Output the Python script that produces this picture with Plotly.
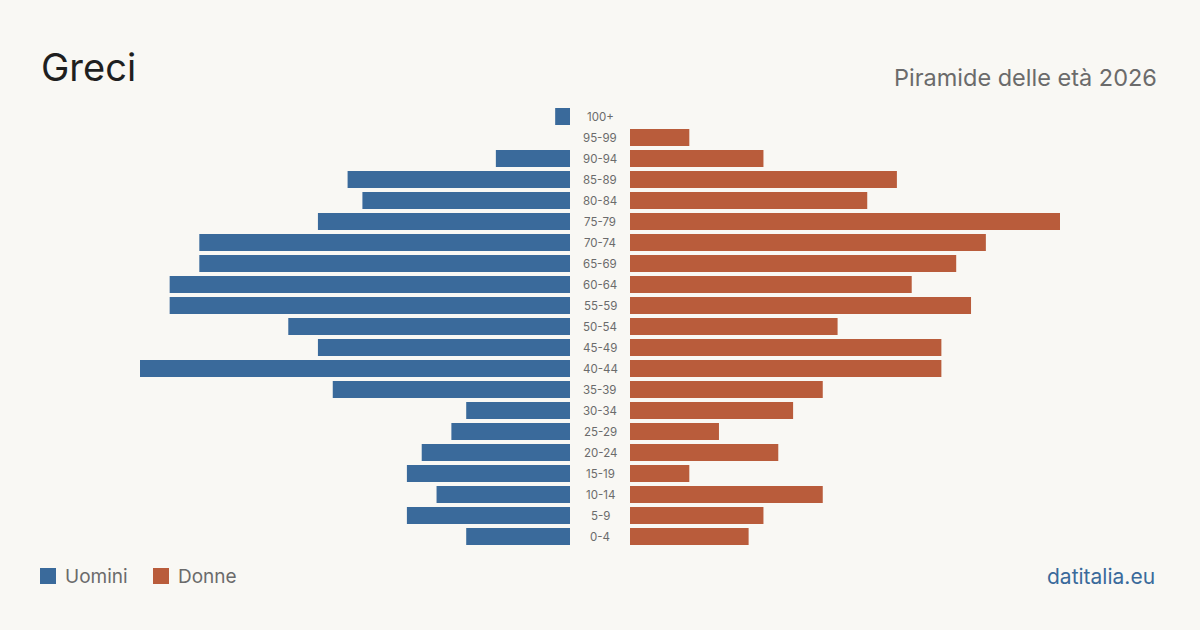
import plotly.graph_objects as go

ages = ["0-4", "5-9", "10-14", "15-19", "20-24", "25-29", "30-34", "35-39", "40-44", "45-49",
        "50-54", "55-59", "60-64", "65-69", "70-74", "75-79", "80-84", "85-89", "90-94", "95-99", "100+"]
uomini = [7, 11, 9, 11, 10, 8, 7, 16, 29, 17, 19, 27, 27, 25, 25, 17, 14, 15, 5, 0, 1]
donne = [8, 9, 13, 4, 10, 6, 11, 13, 21, 21, 14, 23, 19, 22, 24, 29, 16, 18, 9, 4, 0]

BLUE = "#3a6a9b"
ORANGE = "#b95c3b"
BG = "#f9f8f4"
FONT = "Inter"
W, H = 1200, 630

def px(x):
    return x / W

def py(y):
    return 1 - y / H

xmax = 29
fig = go.Figure()
fig.add_trace(go.Bar(y=ages, x=uomini, orientation="h", marker=dict(color=BLUE, line_width=0),
                     xaxis="x", yaxis="y", name="Uomini", showlegend=False, hoverinfo="x+y"))
fig.add_trace(go.Bar(y=ages, x=donne, orientation="h", marker=dict(color=ORANGE, line_width=0),
                     xaxis="x2", yaxis="y", name="Donne", showlegend=False, hoverinfo="x+y"))

for a in ages:
    fig.add_annotation(x=0.5, xref="paper", y=a, yref="y", text=a, showarrow=False,
                       font=dict(family=FONT, size=11.5, color="#6b6b6b"), xanchor="center", yanchor="middle")

fig.update_layout(
    width=W, height=H,
    margin=dict(l=0, r=0, t=0, b=0),
    paper_bgcolor=BG, plot_bgcolor=BG,
    bargap=0.19,
    xaxis=dict(domain=[px(140), px(570)], range=[xmax, 0], visible=False, fixedrange=True),
    xaxis2=dict(domain=[px(630), px(1060)], range=[0, xmax], visible=False, fixedrange=True),
    yaxis=dict(domain=[py(547), py(106)], categoryorder="array", categoryarray=ages,
               range=[-0.5, len(ages) - 0.5], visible=False, fixedrange=True),
    showlegend=False,
)

fig.add_annotation(x=px(39), y=py(67), xref="paper", yref="paper", yanchor="middle", xanchor="left",
                   text="Greci", showarrow=False, font=dict(family=FONT, size=38, color="#1f1f1f"))
fig.add_annotation(x=px(1159), y=py(77), xref="paper", yref="paper", yanchor="middle", xanchor="right",
                   text="Piramide delle età 2026", showarrow=False, font=dict(family=FONT, size=23.5, color="#6b6b6b"))

# legend
for x0, col, label in [(40, BLUE, "Uomini"), (153, ORANGE, "Donne")]:
    fig.add_shape(type="rect", xref="paper", yref="paper", x0=px(x0), x1=px(x0 + 16),
                  y0=py(584), y1=py(568), fillcolor=col, line_width=0)
    fig.add_annotation(x=px(x0 + 23), y=py(576), xref="paper", yref="paper", xanchor="left",
                       yanchor="middle", text=label, showarrow=False,
                       font=dict(family=FONT, size=19, color="#6b6b6b"))

fig.add_annotation(x=px(1157), y=py(576), xref="paper", yref="paper", xanchor="right", yanchor="middle",
                   text="datitalia.eu", showarrow=False, font=dict(family=FONT, size=21, color=BLUE))

fig.write_html("out.html")
